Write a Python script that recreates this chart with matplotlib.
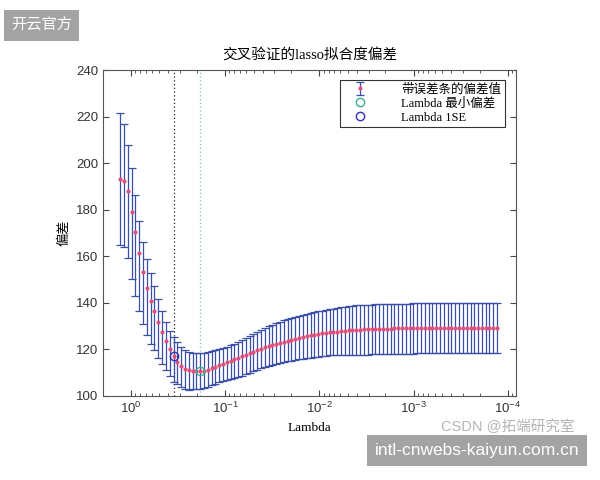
import numpy as np
import matplotlib.pyplot as plt

# lambda grid (largest first)
lam = [1.30, 1.18, 1.08, 0.983, 0.896, 0.816, 0.744, 0.678, 0.618, 0.563,
       0.513, 0.467, 0.426, 0.388, 0.353, 0.322, 0.293, 0.267, 0.244, 0.222,
       0.202, 0.184, 0.168, 0.153, 0.139, 0.127, 0.116, 0.105, 0.0961, 0.0875,
       0.0798, 0.0727, 0.0662, 0.0603, 0.0550, 0.0501, 0.0456, 0.0416, 0.0379, 0.0345,
       0.0315, 0.0287, 0.0261, 0.0238, 0.0217, 0.0198, 0.0180, 0.0164, 0.0150, 0.0136,
       0.0124, 0.0113, 0.0103, 0.00939, 0.00855, 0.00779, 0.00710, 0.00647, 0.00589, 0.00537,
       0.00489, 0.00446, 0.00406, 0.00370, 0.00337, 0.00307, 0.00280, 0.00255, 0.00233, 0.00212,
       0.00193, 0.00176, 0.00160, 0.00146, 0.00133, 0.00121, 0.00110, 0.00101, 0.000917, 0.000836,
       0.000761, 0.000694, 0.000632, 0.000576, 0.000525, 0.000478, 0.000436, 0.000397, 0.000362, 0.000330,
       0.000300, 0.000274, 0.000249, 0.000227, 0.000207, 0.000189, 0.000172, 0.000157, 0.000143, 0.000130]

dev_mean = [193.2, 192.4, 187.9, 179.1, 170.6, 161.6, 153.1, 146.3, 141.0, 136.3,
            131.7, 127.4, 123.6, 120.1, 117.1, 114.6, 112.7, 111.7, 111.0, 110.7,
            110.6, 110.6, 110.8, 111.3, 111.9, 112.5, 113.2, 113.9, 114.5, 115.1,
            115.7, 116.3, 117.0, 117.7, 118.4, 119.1, 119.7, 120.3, 120.9, 121.4,
            121.9, 122.4, 122.9, 123.4, 123.8, 124.2, 124.6, 125.0, 125.4, 125.7,
            126.0, 126.3, 126.6, 126.9, 127.1, 127.3, 127.5, 127.7, 127.9, 128.0,
            128.2, 128.3, 128.4, 128.5, 128.6, 128.7, 128.7, 128.8, 128.8, 128.9,
            128.9, 128.9, 129.0, 129.0, 129.0, 129.0, 129.0, 129.1, 129.1, 129.1,
            129.1, 129.1, 129.1, 129.1, 129.1, 129.1, 129.1, 129.1, 129.1, 129.0,
            129.0, 129.0, 129.0, 129.0, 129.0, 129.0, 129.0, 129.0, 129.0, 129.0]

dev_upper = [221.4, 216.9, 207.9, 198.1, 186.3, 175.3, 166.2, 159.0, 153.0, 147.1,
             141.7, 136.3, 131.7, 128.1, 125.3, 123.1, 121.0, 119.9, 118.9, 118.5,
             118.3, 118.4, 118.6, 119.0, 119.4, 119.8, 120.2, 120.6, 121.1, 121.7,
             122.4, 123.1, 123.9, 124.7, 125.6, 126.5, 127.4, 128.3, 129.2, 130.0,
             130.7, 131.3, 131.9, 132.5, 133.0, 133.5, 134.0, 134.5, 135.0, 135.4,
             135.7, 136.0, 136.3, 136.6, 136.9, 137.2, 137.5, 137.8, 138.1, 138.4,
             138.6, 138.8, 139.0, 139.1, 139.2, 139.3, 139.3, 139.4, 139.5, 139.5,
             139.6, 139.6, 139.6, 139.7, 139.7, 139.7, 139.7, 139.8, 139.8, 139.8,
             139.8, 139.8, 139.9, 139.9, 139.9, 140.0, 140.0, 140.0, 140.0, 140.0,
             140.0, 140.0, 140.0, 140.0, 140.0, 140.0, 140.0, 140.0, 140.0, 140.0]

dev_lower = [164.8, 163.9, 159.3, 150.3, 143.1, 136.7, 131.0, 126.4, 122.4, 119.6,
             116.4, 113.6, 111.0, 108.4, 106.0, 105.3, 103.9, 103.1, 102.7, 102.8,
             102.9, 103.1, 103.4, 103.9, 104.6, 105.2, 105.8, 106.3, 106.8, 107.3,
             107.8, 108.2, 108.7, 109.3, 110.0, 110.7, 111.3, 111.9, 112.4, 112.9,
             113.3, 113.8, 114.2, 114.6, 114.9, 115.2, 115.5, 115.8, 116.1, 116.3,
             116.5, 116.7, 116.9, 117.1, 117.3, 117.4, 117.4, 117.5, 117.5, 117.6,
             117.6, 117.7, 117.7, 117.8, 117.8, 117.8, 117.9, 117.9, 117.9, 118.0,
             118.0, 118.1, 118.1, 118.1, 118.2, 118.2, 118.2, 118.2, 118.3, 118.3,
             118.3, 118.3, 118.4, 118.4, 118.4, 118.4, 118.5, 118.5, 118.5, 118.5,
             118.5, 118.5, 118.6, 118.6, 118.6, 118.6, 118.6, 118.6, 118.6, 118.6]

idx_min = 21   # Lambda with minimum deviance
idx_1se = 14   # Lambda 1SE

plt.rcParams['font.family'] = ['Liberation Sans', 'Noto Sans CJK SC']
cjk = ['Liberation Serif', 'Noto Sans CJK SC']

lam = np.array(lam)
m = np.array(dev_mean)
yerr = [m - np.array(dev_lower), np.array(dev_upper) - m]

fig = plt.figure(figsize=(6, 4.8), dpi=100)
ax = fig.add_axes([0.172, 0.175, 0.688, 0.679])

ax.axvline(lam[idx_1se], color='#222222', ls=(0, (1, 2)), lw=0.9, zorder=1)
ax.axvline(lam[idx_min], color='#7cc4a0', ls=(0, (1, 2)), lw=0.9, zorder=1)

eb = ax.errorbar(lam, m, yerr=yerr, fmt='.', color='#e0507a', ms=4,
                 ecolor='#3a50a8', elinewidth=0.9, capsize=2.6, capthick=0.9,
                 zorder=2)
p_min, = ax.plot(lam[idx_min], m[idx_min], 'o', mfc='none', mec='#3aae96', ms=6, mew=1,
                 zorder=3)
p_1se, = ax.plot(lam[idx_1se], m[idx_1se], 'o', mfc='none', mec='#3030b8', ms=6, mew=1,
                 zorder=3)

ax.set_xscale('log')
ax.set_xlim(1.97, 8.2e-5)
ax.set_ylim(100, 240)
ax.set_yticks(range(100, 241, 20))
ax.tick_params(which='both', direction='in', top=True, right=True,
               colors='#444444', labelcolor='#333333', labelsize=9.5)
ax.tick_params(which='major', length=4)
ax.tick_params(which='minor', length=2)
for s in ax.spines.values():
    s.set_color('#555555')

ax.set_title('交叉验证的lasso拟合度偏差', family=cjk, fontsize=10.5, pad=8)
ax.set_xlabel('Lambda', family=cjk, fontsize=9.5)
ax.set_ylabel('偏差', family=cjk, fontsize=9.5)

leg = ax.legend([eb, p_min, p_1se], ['带误差条的偏差值', 'Lambda 最小偏差', 'Lambda 1SE'],
                loc='upper right', bbox_to_anchor=(0.973, 0.97), fancybox=False,
                edgecolor='black', prop={'family': cjk, 'size': 9},
                handlelength=2.6, handletextpad=2.0, borderpad=0.3,
                labelspacing=0.15, borderaxespad=0)
leg.get_frame().set_linewidth(0.8)

# watermarks
fig.text(0.018, 0.947, '开云官方', color='white', fontsize=11, va='center',
         family=['Noto Sans CJK SC'],
         bbox=dict(boxstyle='square,pad=0.45', fc='#a3a3a3', ec='none'))
fig.text(0.735, 0.112, 'CSDN @拓端研究室', color='#b5b5b5', fontsize=10.5,
         va='center', family=['Liberation Sans', 'Noto Sans CJK SC'])
fig.text(0.625, 0.052, 'intl-cnwebs-kaiyun.com.cn', color='white', fontsize=12.5,
         family=['Liberation Sans'],
         bbox=dict(boxstyle='square,pad=0.45', fc='#a3a3a3', ec='none'))

fig.savefig('out.png', dpi=100)
